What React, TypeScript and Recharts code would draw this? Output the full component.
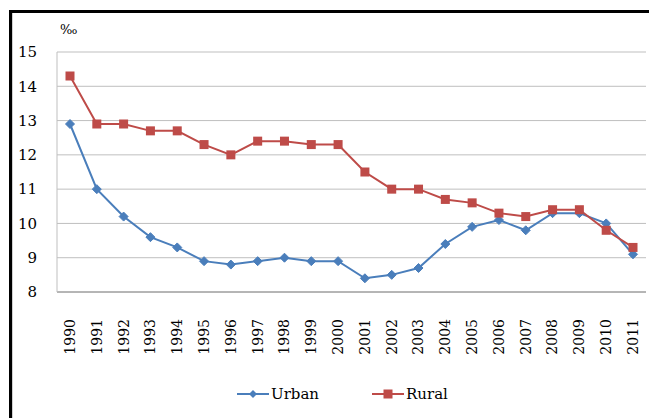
import React from 'react';
import { LineChart, Line, XAxis, YAxis, CartesianGrid, Legend } from 'recharts';

const years = ['1990','1991','1992','1993','1994','1995','1996','1997','1998','1999','2000','2001','2002','2003','2004','2005','2006','2007','2008','2009','2010','2011'];
const urban = [12.9, 11.0, 10.2, 9.6, 9.3, 8.9, 8.8, 8.9, 9.0, 8.9, 8.9, 8.4, 8.5, 8.7, 9.4, 9.9, 10.1, 9.8, 10.3, 10.3, 10.0, 9.1];
const rural = [14.3, 12.9, 12.9, 12.7, 12.7, 12.3, 12.0, 12.4, 12.4, 12.3, 12.3, 11.5, 11.0, 11.0, 10.7, 10.6, 10.3, 10.2, 10.4, 10.4, 9.8, 9.3];
const yTicks = [8, 9, 10, 11, 12, 13, 14, 15];
const unitLabel = '‰';

const data = years.map((y, i) => ({ year: y, Urban: urban[i], Rural: rural[i] }));

const FONT = "'DejaVu Serif', serif";
const BLUE = '#4A7EBB';
const RED = '#BE4B48';

const XTick = (props: any) => {
  const { x, y, payload } = props;
  return (
    <g transform={`translate(${x},${y})`}>
      <text transform="rotate(-90)" x={-19} y={0} dy="0.35em" textAnchor="end" style={{ fontFamily: FONT, fontSize: 14 }} fill="#000">
        {payload.value}
      </text>
    </g>
  );
};

const YTick = (props: any) => {
  const { x, y, payload } = props;
  return (
    <text x={x} y={y} dy="0.35em" textAnchor="end" style={{ fontFamily: FONT, fontSize: 15 }} fill="#000">
      {payload.value}
    </text>
  );
};

const UnitLabel = (props: any) => {
  const vb = props.viewBox || {};
  return (
    <text x={(vb.x ?? 0) + (vb.width ?? 0) + 3} y={(vb.y ?? 0) - 18} style={{ fontFamily: FONT, fontSize: 13 }} fill="#000">
      {unitLabel}
    </text>
  );
};

const Diamond = (props: any) => {
  const { cx, cy } = props;
  if (cx == null || cy == null) return null;
  const r = 4.5;
  return <path d={`M${cx},${cy - r}L${cx + r},${cy}L${cx},${cy + r}L${cx - r},${cy}Z`} fill={BLUE} stroke={BLUE} strokeWidth={1} />;
};

const Square = (props: any) => {
  const { cx, cy } = props;
  if (cx == null || cy == null) return null;
  const s = 9;
  return <rect x={cx - s / 2} y={cy - s / 2} width={s} height={s} fill={RED} />;
};

const LegendContent = () => (
  <div style={{ display: 'flex', alignItems: 'center', marginTop: 7, fontFamily: FONT, fontSize: 15, color: '#000' }}>
    <svg width={32} height={12} style={{ display: 'block' }}>
      <line x1={0} y1={6} x2={32} y2={6} stroke={BLUE} strokeWidth={2} />
      <path d="M16,2L20,6L16,10L12,6Z" fill={BLUE} />
    </svg>
    <span style={{ marginLeft: 2 }}>Urban</span>
    <svg width={32} height={12} style={{ display: 'block', marginLeft: 53 }}>
      <line x1={0} y1={6} x2={32} y2={6} stroke={RED} strokeWidth={2} />
      <rect x={11.5} y={1.5} width={9} height={9} fill={RED} />
    </svg>
    <span style={{ marginLeft: 2 }}>Rural</span>
  </div>
);

export default function App() {
  return (
    <div style={{ position: 'absolute', left: 0, top: 0, width: 649, height: 418, background: '#fff', overflow: 'hidden' }}>
      <div style={{ position: 'absolute', left: 9, top: 10, width: 700, height: 500, borderTop: '3px solid #000', borderLeft: '3px solid #000' }} />
      <div style={{ position: 'absolute', left: 12, top: 13, width: 1, height: 500, background: '#D0D0D0' }} />
      <div style={{ position: 'absolute', left: 0, top: 0 }}>
        <LineChart width={649} height={418} data={data} margin={{ top: 52, right: 3, left: 0, bottom: 0 }}>
          <CartesianGrid vertical={false} stroke="#BFBFBF" strokeWidth={1} />
          <XAxis
            dataKey="year"
            interval={0}
            tick={<XTick />}
            tickLine={false}
            padding={{ left: 13, right: 13 }}
            axisLine={{ stroke: '#8C8C8C', strokeWidth: 1 }}
            height={86}
          />
          <YAxis
            domain={[8, 15]}
            ticks={yTicks}
            interval={0}
            width={57}
            tickLine={false}
            axisLine={{ stroke: '#BFBFBF', strokeWidth: 1 }}
            tickMargin={14}
            tick={<YTick />}
            label={<UnitLabel />}
          />
          <Legend
            verticalAlign="bottom"
            height={40}
            content={<LegendContent />}
            wrapperStyle={{ left: 237, width: 260 }}
          />
          <Line type="linear" dataKey="Urban" stroke={BLUE} strokeWidth={2} dot={<Diamond />} activeDot={false} isAnimationActive={false} />
          <Line type="linear" dataKey="Rural" stroke={RED} strokeWidth={2} dot={<Square />} activeDot={false} isAnimationActive={false} />
        </LineChart>
      </div>
    </div>
  );
}
